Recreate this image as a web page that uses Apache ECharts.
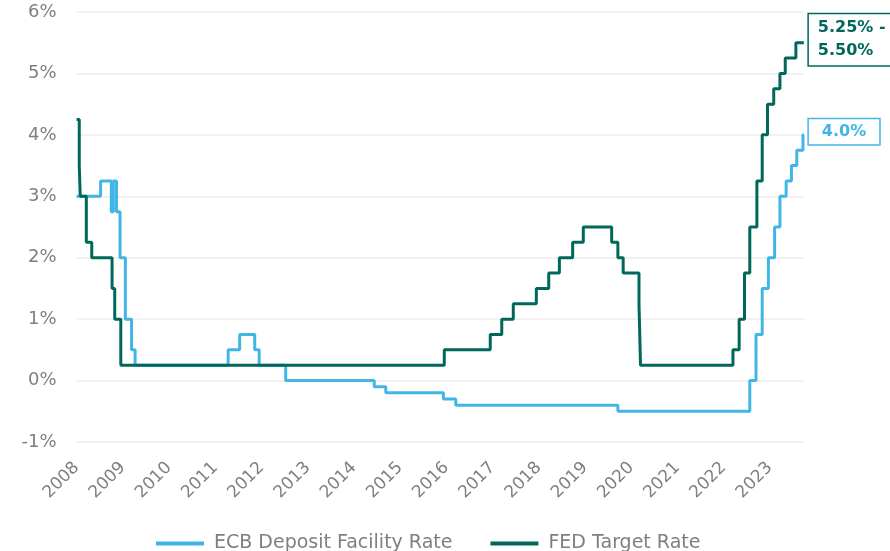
<!DOCTYPE html>
<html>
<head>
<meta charset="utf-8">
<script src="https://cdn.jsdelivr.net/npm/echarts@6/dist/echarts.min.js"></script>
<style>
html,body{margin:0;padding:0;background:#fff;}
#chart{width:890px;height:551px;}
</style>
</head>
<body>
<div id="chart"></div>
<script>
// ECB Deposit Facility Rate (change dates and new rate, %)
const ecbDates = ['2008-01-01','2008-07-09','2008-10-02','2008-10-18','2008-11-12','2008-12-10','2009-01-21','2009-03-11','2009-04-08','2011-04-13','2011-07-13','2011-11-09','2011-12-14','2012-07-11','2014-06-11','2014-09-10','2015-12-09','2016-03-16','2019-09-18','2022-07-27','2022-09-14','2022-11-02','2022-12-21','2023-02-08','2023-03-22','2023-05-10','2023-06-21','2023-08-02','2023-09-20','2023-09-27'];
const ecbRates = [3.00,3.25,2.75,3.25,2.75,2.00,1.00,0.50,0.25,0.50,0.75,0.50,0.25,0.00,-0.10,-0.20,-0.30,-0.40,-0.50,0.00,0.75,1.50,2.00,2.50,3.00,3.25,3.50,3.75,4.00,4.00];

// FED Target Rate (upper bound, %)
const fedDates = ['2008-01-01','2008-01-22','2008-01-30','2008-03-18','2008-04-30','2008-10-08','2008-10-29','2008-12-16','2015-12-16','2016-12-14','2017-03-15','2017-06-14','2017-12-13','2018-03-21','2018-06-13','2018-09-26','2018-12-19','2019-07-31','2019-09-18','2019-10-30','2020-03-03','2020-03-15','2022-03-16','2022-05-04','2022-06-15','2022-07-27','2022-09-21','2022-11-02','2022-12-14','2023-02-01','2023-03-22','2023-05-03','2023-07-26','2023-09-27'];
const fedRates = [4.25,3.50,3.00,2.25,2.00,1.50,1.00,0.25,0.50,0.75,1.00,1.25,1.50,1.75,2.00,2.25,2.50,2.25,2.00,1.75,1.25,0.25,0.50,1.00,1.75,2.50,3.25,4.00,4.50,4.75,5.00,5.25,5.50,5.50];

const seriesNames = ['ECB Deposit Facility Rate','FED Target Rate'];
const endLabels = ['4.0%', '5.25% -\n5.50%'];
const yTicks = [-1, 0, 1, 2, 3, 4, 5, 6];
const xStart = 2008, xEnd = 2023.74;

function toYear(s) {
  const d = Date.parse(s + 'T00:00:00Z');
  const y = new Date(d).getUTCFullYear();
  const a = Date.UTC(y, 0, 1), b = Date.UTC(y + 1, 0, 1);
  return y + (d - a) / (b - a);
}

const ecbColor = '#41b6e6';
const fedColor = '#00685a';
const grey = '#7f7f7f';
const font = 'DejaVu Sans';

const chart = echarts.init(document.getElementById('chart'), null, {renderer: 'canvas'});
chart.setOption({
  animation: false,
  backgroundColor: '#fff',
  grid: {left: 76.6, right: 86, top: 12, bottom: 109, containLabel: false},
  legend: {
    left: 151, top: 529,
    icon: 'rect', itemWidth: 48, itemHeight: 4, itemGap: 38,
    textStyle: {color: grey, fontSize: 19, fontFamily: font, padding: [0, 0, 0, 5]},
    data: seriesNames
  },
  xAxis: {
    type: 'value', min: xStart, max: xEnd, interval: 1,
    axisLine: {show: false, onZero: false},
    axisTick: {show: false},
    splitLine: {show: false},
    axisLabel: {
      rotate: 45, margin: 23, color: grey, fontSize: 17, fontFamily: font,
      showMaxLabel: false,
      formatter: v => Number.isInteger(v) ? String(v) : ''
    }
  },
  yAxis: {
    type: 'value', min: yTicks[0], max: yTicks[yTicks.length - 1], interval: 1,
    axisLine: {show: false}, axisTick: {show: false},
    splitLine: {lineStyle: {color: '#ececec', width: 1.5}},
    axisLabel: {margin: 20, color: grey, fontSize: 18, fontFamily: font, formatter: v => v + '%'}
  },
  series: [
    {
      name: seriesNames[0], type: 'line', step: 'end', symbol: 'none',
      data: ecbDates.map((d, i) => [toYear(d), ecbRates[i]]),
      lineStyle: {color: ecbColor, width: 3},
      itemStyle: {color: ecbColor},
      endLabel: {
        show: true, formatter: endLabels[0], distance: 5, offset: [0, -3],
        color: ecbColor, fontWeight: 'bold', fontSize: 16, fontFamily: font,
        backgroundColor: '#fff', borderColor: ecbColor, borderWidth: 1.5,
        padding: [3, 13, 2, 13], lineHeight: 20
      },
      z: 2
    },
    {
      name: seriesNames[1], type: 'line', step: 'end', symbol: 'none',
      data: fedDates.map((d, i) => [toYear(d), fedRates[i]]),
      lineStyle: {color: fedColor, width: 3},
      itemStyle: {color: fedColor},
      endLabel: {
        show: true, formatter: endLabels[1], distance: 5, offset: [0, -3],
        color: fedColor, fontWeight: 'bold', fontSize: 16, fontFamily: font,
        backgroundColor: '#fff', borderColor: fedColor, borderWidth: 1.5,
        padding: [3, 5, 2, 9], lineHeight: 23, align: 'left'
      },
      z: 3
    }
  ]
});
</script>
</body>
</html>
